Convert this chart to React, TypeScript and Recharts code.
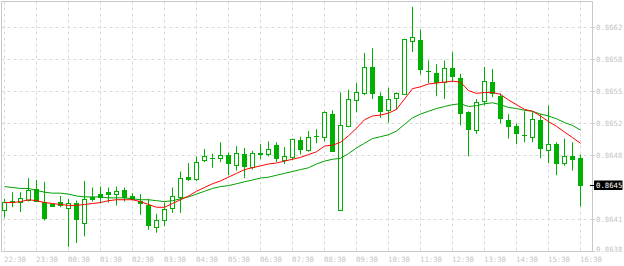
import {
  Bar,
  CartesianGrid,
  ComposedChart,
  Line,
  ReferenceArea,
  ReferenceLine,
  XAxis,
  YAxis,
} from 'recharts';

// 15 minute candles, 22:30 -> 16:30
const hourLabels = [
  '22:30', '23:30', '00:30', '01:30', '02:30', '03:30', '04:30', '05:30', '06:30', '07:30',
  '08:30', '09:30', '10:30', '11:30', '12:30', '13:30', '14:30', '15:30', '16:30',
];

const open = [
  0.86424, 0.86433, 0.86433, 0.86435, 0.86446, 0.86433, 0.8643, 0.86433, 0.86426, 0.86432,
  0.8641, 0.86438, 0.86441, 0.86443, 0.86441, 0.86445, 0.86439, 0.86434, 0.86429, 0.86406,
  0.86413, 0.86426, 0.86438, 0.86459, 0.86457, 0.86477, 0.86479, 0.86479, 0.86483, 0.86472,
  0.86484, 0.8647, 0.86484, 0.86484, 0.86493, 0.86477, 0.8648, 0.86498, 0.86488, 0.86503,
  0.86502, 0.86526, 0.86424, 0.86513, 0.86541, 0.86548, 0.86576, 0.86545, 0.8653, 0.86543,
  0.86547, 0.86604, 0.86605, 0.86572, 0.8657, 0.8656, 0.86575, 0.86564, 0.86528, 0.86509,
  0.8654, 0.8656, 0.86545, 0.8652, 0.86513, 0.86504, 0.86502, 0.8652, 0.86488, 0.86494,
  0.86474, 0.86481, 0.86479,
];
const high = [
  0.86436, 0.86443, 0.86443, 0.86458, 0.86456, 0.86454, 0.86431, 0.86439, 0.86436, 0.86434,
  0.86455, 0.86448, 0.86449, 0.86448, 0.86449, 0.86448, 0.86442, 0.86441, 0.86436, 0.8642,
  0.86432, 0.86448, 0.86465, 0.86474, 0.86481, 0.86489, 0.86484, 0.86496, 0.86485, 0.86492,
  0.8649, 0.86487, 0.86494, 0.86497, 0.86496, 0.86491, 0.865, 0.86502, 0.86508, 0.8651,
  0.86529, 0.8653, 0.86549, 0.86552, 0.86559, 0.86591, 0.86596, 0.86549, 0.86554, 0.86549,
  0.86606, 0.8664, 0.86616, 0.86583, 0.86579, 0.86583, 0.86592, 0.86569, 0.86529, 0.86542,
  0.86576, 0.86574, 0.86548, 0.86526, 0.86516, 0.86529, 0.86528, 0.86526, 0.86535, 0.86496,
  0.865, 0.86496, 0.86483,
];
const low = [
  0.86416, 0.86427, 0.86422, 0.86433, 0.86433, 0.86413, 0.86428, 0.86427, 0.86385, 0.86389,
  0.86396, 0.86433, 0.86431, 0.86432, 0.86429, 0.86433, 0.86435, 0.86419, 0.86403, 0.864,
  0.86407, 0.86421, 0.86421, 0.86455, 0.86455, 0.86475, 0.86469, 0.86475, 0.86461, 0.86466,
  0.86458, 0.86467, 0.86478, 0.86481, 0.86475, 0.86473, 0.86477, 0.86483, 0.86486, 0.86495,
  0.86497, 0.86486, 0.86423, 0.86512, 0.86528, 0.86546, 0.86542, 0.86522, 0.86517, 0.86531,
  0.86547, 0.86592, 0.86568, 0.86559, 0.86545, 0.86542, 0.8656, 0.86514, 0.86481, 0.86505,
  0.86535, 0.86544, 0.86516, 0.865, 0.86494, 0.86496, 0.86496, 0.86479, 0.86474, 0.86461,
  0.86471, 0.86466, 0.86428,
];
const close = [
  0.86433, 0.86434, 0.86437, 0.86445, 0.86434, 0.86416, 0.86428, 0.86429, 0.86432, 0.86414,
  0.86436, 0.86436, 0.86438, 0.86441, 0.86444, 0.86438, 0.86436, 0.86431, 0.86408, 0.86413,
  0.86425, 0.86439, 0.86458, 0.86457, 0.86475, 0.86481, 0.86479, 0.86482, 0.86474, 0.86485,
  0.86471, 0.86485, 0.86485, 0.86489, 0.86479, 0.86481, 0.86499, 0.86489, 0.86502, 0.86503,
  0.86528, 0.86487, 0.86514, 0.86542, 0.86549, 0.86576, 0.86548, 0.86529, 0.86542, 0.86548,
  0.86606, 0.86608, 0.86574, 0.86572, 0.8656, 0.86575, 0.86566, 0.86527, 0.8651, 0.86539,
  0.86561, 0.86548, 0.86522, 0.86513, 0.86506, 0.86504, 0.86521, 0.8649, 0.86494, 0.86474,
  0.86481, 0.86478, 0.86451,
];
// red moving average
const maFast = [
  0.86432, 0.86432, 0.86433, 0.86435, 0.86434, 0.86432, 0.86431, 0.8643, 0.86429, 0.86429,
  0.8643, 0.86431, 0.86432, 0.86434, 0.86435, 0.86435, 0.86435, 0.86433, 0.8643, 0.86427,
  0.86427, 0.86431, 0.86435, 0.86439, 0.86444, 0.86448, 0.86452, 0.86455, 0.86459, 0.86463,
  0.86467, 0.86469, 0.86471, 0.86473, 0.86474, 0.86476, 0.86478, 0.8648, 0.86483, 0.86486,
  0.86492, 0.86493, 0.86496, 0.86503, 0.86511, 0.8652, 0.86524, 0.86525, 0.86527, 0.86531,
  0.86542, 0.86553, 0.86555, 0.86558, 0.86559, 0.8656, 0.86561, 0.8656, 0.86551, 0.86548,
  0.86549, 0.86549, 0.86547, 0.86541, 0.86536, 0.86531, 0.86529, 0.86524, 0.86518, 0.86513,
  0.86507, 0.86501, 0.86495,
];
// green moving average
const maSlow = [
  0.86449, 0.86448, 0.86447, 0.86447, 0.86445, 0.86443, 0.86442, 0.86442, 0.86441, 0.86439,
  0.86438, 0.86438, 0.86438, 0.86437, 0.86437, 0.86437, 0.86436, 0.86435, 0.86435, 0.86434,
  0.86433, 0.86434, 0.86436, 0.86438, 0.86441, 0.86444, 0.86447, 0.86449, 0.8645, 0.86452,
  0.86454, 0.86456, 0.86458, 0.86459, 0.86461, 0.86463, 0.86465, 0.86467, 0.86469, 0.86473,
  0.86476, 0.86478, 0.86479, 0.86484, 0.8649, 0.86495, 0.865, 0.86502, 0.86504, 0.86508,
  0.86515, 0.86522, 0.86526, 0.86529, 0.86532, 0.86534, 0.86536, 0.86537, 0.86534, 0.86535,
  0.86537, 0.86538, 0.86536, 0.86533, 0.86532, 0.8653, 0.86529, 0.86526, 0.86524, 0.86521,
  0.86517, 0.86514, 0.86509,
];

const priceTicks = [0.8638, 0.86414, 0.86482, 0.86516, 0.8655, 0.86584, 0.86618];
const priceMin = 0.8638;
const priceMax = 0.86645625;

const hourTicks = hourLabels.map((_, i) => i * 4);
const lastClose = close[close.length - 1];

const rows = open.map((o, i) => ({
  i,
  open: o,
  high: high[i],
  low: low[i],
  close: close[i],
  range: [low[i], high[i]],
  fast: maFast[i],
  slow: maSlow[i],
}));

const CANDLE = '#00b000';
const TEXT = '#c4c4c4';
const FRAME = '#c8c8c8';
const FONT = '"DejaVu Sans Mono", monospace';

function Candle(props: any) {
  const { x, y, width, height, payload } = props;
  if (!payload) return null;
  const top = Math.min(y, y + height);
  const h = Math.abs(height);
  const span = payload.high - payload.low || 1e-9;
  const py = (v: number) => top + ((payload.high - v) / span) * h;
  const cx = Math.floor(x + width / 2) + 0.5;
  const yo = py(payload.open);
  const yc = py(payload.close);
  const bTop = Math.round(Math.min(yo, yc));
  const bBot = Math.round(Math.max(yo, yc));
  const bull = payload.close >= payload.open;
  let body;
  if (bBot - bTop < 1) {
    body = <line x1={cx - 2.5} x2={cx + 2.5} y1={bTop + 0.5} y2={bTop + 0.5} stroke={CANDLE} />;
  } else if (bull) {
    body = (
      <rect x={cx - 2} y={bTop + 0.5} width={4} height={bBot - bTop} fill="#fff" stroke={CANDLE} />
    );
  } else {
    body = <rect x={cx - 2.5} y={bTop} width={5} height={bBot - bTop + 1} fill={CANDLE} />;
  }
  return (
    <g>
      <line x1={cx} x2={cx} y1={py(payload.high)} y2={py(payload.low)} stroke={CANDLE} />
      {body}
    </g>
  );
}

function TimeTick({ x, payload }: any) {
  return (
    <text x={x - 0.5} y={262} textAnchor="start" fill={TEXT} fontSize={7.3} fontFamily={FONT}>
      {hourLabels[payload.value / 4]}
    </text>
  );
}

function PriceTick({ y, payload }: any) {
  const ty = Math.min(y, 249);
  return (
    <g>
      <line x1={592.5} x2={595} y1={y} y2={y} stroke={FRAME} />
      <text x={596} y={ty + 2.6} fill={TEXT} fontSize={7.3} fontFamily={FONT}>
        {payload.value.toFixed(4)}
      </text>
    </g>
  );
}

function PriceTag({ viewBox, text }: any) {
  if (!viewBox) return null;
  const y = Math.round(viewBox.y) + 0.5;
  const x = viewBox.x + viewBox.width;
  return (
    <g>
      <line x1={x - 2.5} x2={x + 2} y1={y} y2={y} stroke="#000" />
      <rect x={594} y={y - 5} width={28.5} height={9.5} fill="#000" />
      <text x={596} y={y + 2.6} fill="#fff" fontSize={7.3} fontFamily={FONT}>
        {text}
      </text>
    </g>
  );
}

export default function App() {
  return (
    <div style={{ position: 'absolute', left: 0, top: 0, width: 624, height: 266, background: '#fff' }}>
      <ComposedChart
        width={624}
        height={266}
        data={rows}
        margin={{ top: 1.5, right: 0, bottom: 0, left: 1.5 }}
      >
        <CartesianGrid stroke="#d9d9d9" strokeDasharray="3 3" />
        <XAxis
          dataKey="i"
          type="number"
          domain={[-0.375, 73.5]}
          ticks={hourTicks}
          interval={0}
          height={14.5}
          axisLine={false}
          tickLine={false}
          tick={<TimeTick />}
          allowDataOverflow
        />
        <YAxis
          orientation="right"
          type="number"
          domain={[priceMin, priceMax]}
          ticks={priceTicks}
          interval={0}
          width={31.5}
          axisLine={false}
          tickLine={false}
          tick={<PriceTick />}
          allowDataOverflow
        />
        <ReferenceArea
          x1={-0.375}
          x2={73.5}
          y1={priceMin}
          y2={priceMax}
          fill="none"
          stroke={FRAME}
          strokeWidth={1}
          ifOverflow="visible"
        />
        <Bar
          dataKey="range"
          barSize={5}
          isAnimationActive={false}
          shape={(p: any) => <Candle {...p} />}
        />
        <Line
          type="linear"
          dataKey="slow"
          stroke="#00a000"
          strokeWidth={1}
          dot={false}
          activeDot={false}
          isAnimationActive={false}
        />
        <Line
          type="linear"
          dataKey="fast"
          stroke="#ff0000"
          strokeWidth={1}
          dot={false}
          activeDot={false}
          isAnimationActive={false}
        />
        <ReferenceLine
          y={lastClose}
          stroke="none"
          ifOverflow="visible"
          label={<PriceTag text={lastClose.toFixed(4)} />}
        />
      </ComposedChart>
    </div>
  );
}
